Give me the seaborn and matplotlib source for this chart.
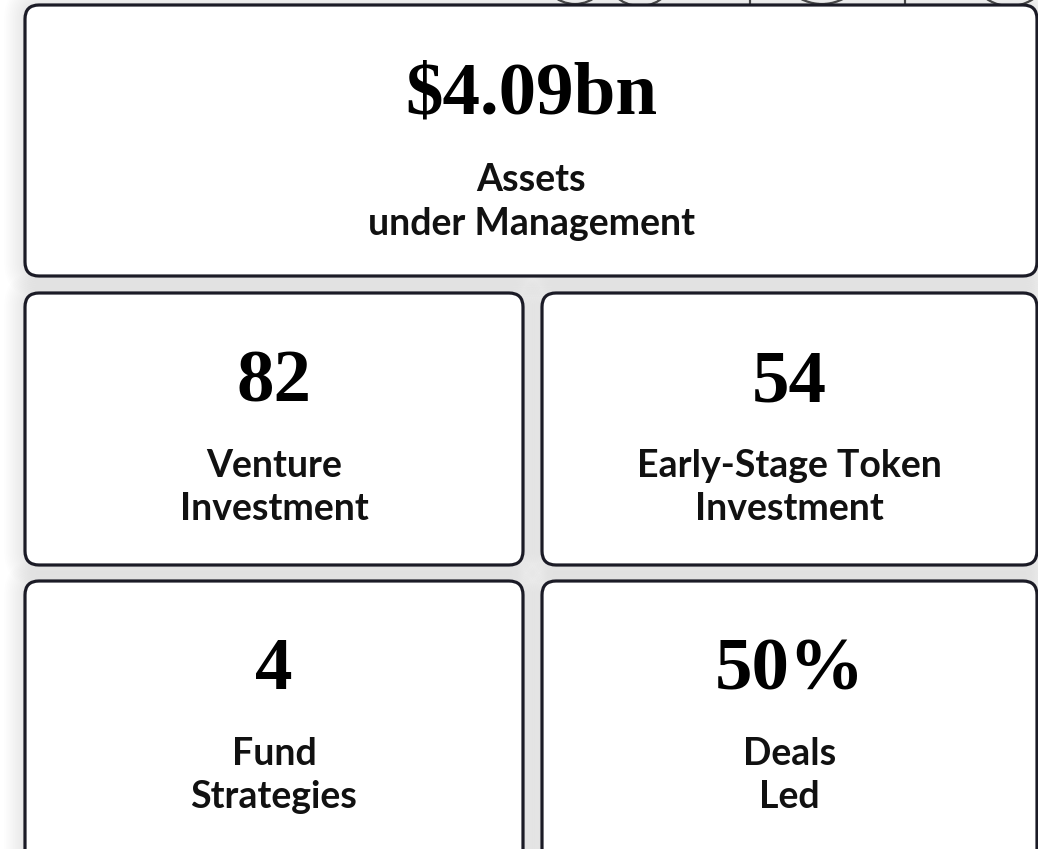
import matplotlib
matplotlib.use("Agg")
import matplotlib.pyplot as plt
from matplotlib.patches import FancyBboxPatch, Circle
import seaborn as sns

# KPI card contents
values = ["$4.09bn", "82", "54", "4", "50%"]
labels = [
    "Assets\nunder Management",
    "Venture\nInvestment",
    "Early-Stage Token\nInvestment",
    "Fund\nStrategies",
    "Deals\nLed",
]

# card boxes in pixels: x0, y0, x1, y1
cards = [
    (25, 5, 1037, 276),
    (25, 293, 523, 565),
    (542, 293, 1037, 565),
    (25, 581, 523, 870),
    (542, 581, 1037, 870),
]
label_offset = [197, 194.5, 194.5, 194.5, 194.5]

W, H = 1038, 849
sns.set_theme(style="white")
plt.rcParams["font.family"] = ["Lato", "DejaVu Sans"]

fig = plt.figure(figsize=(W / 100, H / 100), dpi=100)
ax = fig.add_axes([0, 0, 1, 1])
ax.set_xlim(0, W)
ax.set_ylim(H, 0)
ax.axis("off")
fig.patch.set_facecolor("white")

edge = "#1b1b26"

# bits of the decoration peeking above the top card
for cx, cy, r in [(640, -30, 36), (822, -42, 46), (1010, -36, 42), (575, -30, 34)]:
    ax.add_patch(Circle((cx, cy), r, fill=False, ec="#333333", lw=1.6, zorder=1))
for x in [750, 905]:
    ax.plot([x, x], [0, 6], color="#333333", lw=1.6, zorder=1)

for (x0, y0, x1, y1), val, lab, off in zip(cards, values, labels, label_offset):
    # soft shadow
    for i in range(12):
        pad = 1 + i * 1.8
        ax.add_patch(FancyBboxPatch(
            (x0 - pad, y0 - pad), (x1 - x0) + 2 * pad, (y1 - y0) + 2 * pad,
            boxstyle=f"round,pad=0,rounding_size={14 + pad}",
            fc="#b0b0b0", ec="none", alpha=0.018, zorder=2))
    ax.add_patch(FancyBboxPatch(
        (x0, y0), x1 - x0, y1 - y0,
        boxstyle="round,pad=0,rounding_size=14",
        fc="white", ec=edge, lw=2.3, zorder=3))
    cx = (x0 + x1) / 2
    ax.text(cx, y0 + 90, val, ha="center", va="center", fontsize=54,
            fontweight="bold", family=["Liberation Serif", "DejaVu Serif"],
            color="black", zorder=4)
    ax.text(cx, y0 + off, lab, ha="center", va="center", fontsize=27,
            fontweight="bold", color="#111111", linespacing=1.34, zorder=4)

fig.savefig("out.png", dpi=100)
